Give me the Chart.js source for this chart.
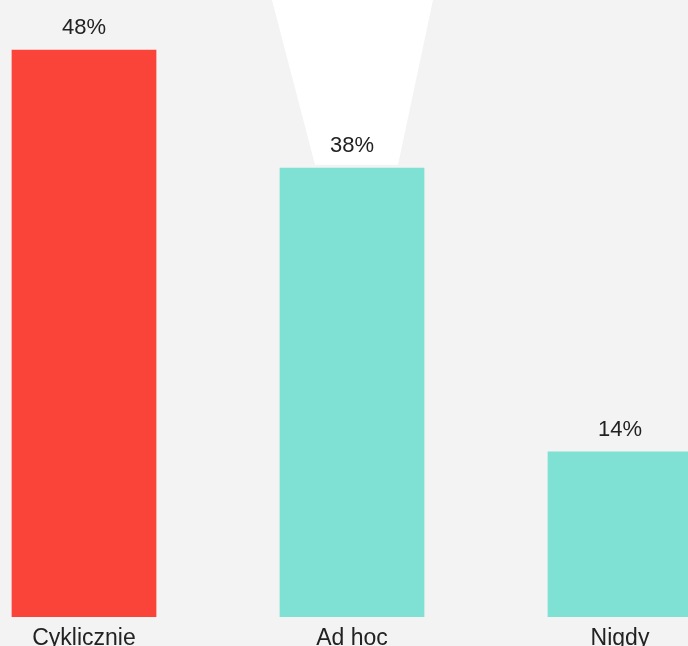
<!DOCTYPE html>
<html>
<head>
<meta charset="utf-8">
<script src="https://cdn.jsdelivr.net/npm/chart.js@4.4.0/dist/chart.umd.min.js"></script>
<style>
    html, body {
        margin: 0;
        padding: 0;
        width: 688px;
        height: 646px;
        overflow: hidden;
        background: #f3f3f3;
    }
    .box {
        position: absolute;
        left: -50.5px;
        top: 0;
        width: 804px;
        height: 680px;
    }
</style>
</head>
<body>
<div class="box"><canvas id="ctx"></canvas></div>
<script>
// 数据
const categories = ['Cyklicznie', 'Ad hoc', 'Nigdy']
const values = [48, 38, 14]
const barColors = ['#fa4339', '#7fe0d4', '#7fe0d4']

// 第二根柱子上方的白色光束
const beamPlugin = {
    id: 'beam',
    beforeDatasetsDraw(chart) {
        const bar = chart.getDatasetMeta(0).data[1]
        if (!bar) return
        const c = chart.ctx
        const top = chart.chartArea.top
        const bottom = bar.y - 3
        c.save()
        c.fillStyle = '#ffffff'
        c.beginPath()
        c.moveTo(bar.x - 80, top)
        c.lineTo(bar.x + 81, top)
        c.lineTo(bar.x + 46, bottom)
        c.lineTo(bar.x - 37, bottom)
        c.closePath()
        c.fill()
        c.restore()
    }
}

// 柱顶百分比
const valueLabels = {
    id: 'valueLabels',
    afterDatasetsDraw(chart) {
        const c = chart.ctx
        const meta = chart.getDatasetMeta(0)
        c.save()
        c.font = '22px "Liberation Sans", Arial, sans-serif'
        c.fillStyle = '#222222'
        c.textAlign = 'center'
        c.textBaseline = 'alphabetic'
        meta.data.forEach((bar, i) => {
            c.fillText(`${values[i]}%`, bar.x, bar.y - 16)
        })
        c.restore()
    }
}

const config = {
    type: 'bar',
    data: {
        labels: categories,
        datasets: [{
            data: values,
            backgroundColor: barColors,
            borderWidth: 0,
            categoryPercentage: 0.6,
            barPercentage: 0.9
        }]
    },
    options: {
        responsive: true,
        maintainAspectRatio: false,
        animation: false,
        layout: { padding: 0 },
        plugins: {
            legend: { display: false },
            tooltip: { enabled: false }
        },
        scales: {
            x: {
                grid: { display: false, drawTicks: false, tickLength: 0 },
                border: { display: false },
                ticks: {
                    color: '#222222',
                    padding: 8,
                    font: { family: '"Liberation Sans", Arial, sans-serif', size: 23, lineHeight: 1.2 }
                },
                afterFit(scale) {
                    scale.height = 63 // 柱底固定在 617
                }
            },
            y: {
                display: false,
                min: 0,
                max: 52.2
            }
        }
    },
    plugins: [beamPlugin, valueLabels]
}

new Chart(document.getElementById('ctx'), config)
</script>
</body>
</html>
